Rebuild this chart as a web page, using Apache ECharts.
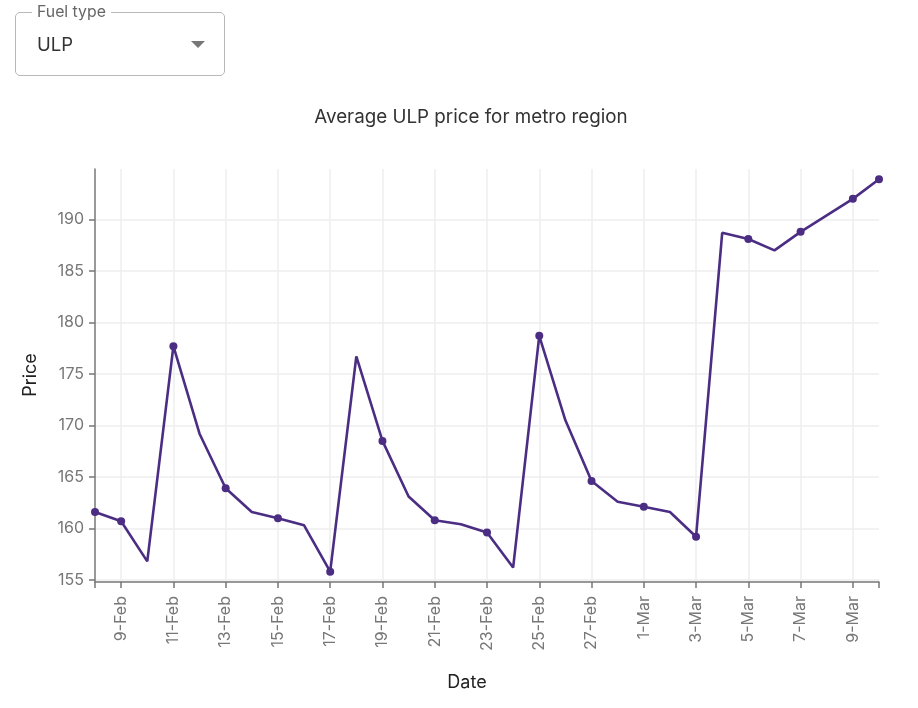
<!DOCTYPE html>
<html>
<head>
<meta charset="utf-8">
<script src="https://cdn.jsdelivr.net/npm/echarts@6/dist/echarts.min.js"></script>
<style>
  html, body { margin: 0; padding: 0; background: #fff; font-family: Inter, "Noto Sans", sans-serif; }
  #wrap { position: relative; width: 918px; height: 708px; }
  #chart { position: absolute; left: 0; top: 0; width: 918px; height: 708px; }
  #sel { position: absolute; left: 15px; top: 12px; width: 210px; height: 64px; border: 1px solid #b8b8b8; border-radius: 5px; box-sizing: border-box; z-index: 2; background: transparent; }
  #sel .lab { position: absolute; left: 16px; top: -11px; padding: 0 5px; background: #fff; font-size: 15.8px; color: #666; line-height: 20px; }
  #sel .val { position: absolute; left: 21px; top: 20px; font-size: 18.5px; color: #333; line-height: 22px; }
  #sel .arr { position: absolute; left: 175px; top: 28px; width: 0; height: 0; border-left: 7px solid transparent; border-right: 7px solid transparent; border-top: 7px solid #777; }
</style>
</head>
<body>
<div id="wrap">
  <div id="chart"></div>
  <div id="sel"><span class="lab">Fuel type</span><span class="val">ULP</span><span class="arr"></span></div>
</div>
<script>
const dates = ['8-Feb','9-Feb','10-Feb','11-Feb','12-Feb','13-Feb','14-Feb','15-Feb','16-Feb','17-Feb','18-Feb','19-Feb','20-Feb','21-Feb','22-Feb','23-Feb','24-Feb','25-Feb','26-Feb','27-Feb','28-Feb','1-Mar','2-Mar','3-Mar','4-Mar','5-Mar','6-Mar','7-Mar','8-Mar','9-Mar','10-Mar'];
const prices = [161.6,160.7,156.8,177.7,169.2,163.9,161.6,161.0,160.3,155.8,176.7,168.5,163.1,160.8,160.4,159.6,156.2,178.7,170.5,164.6,162.6,162.1,161.6,159.2,188.7,188.1,187.0,188.8,190.4,192.0,193.9];
const yMin = 154.8;
const yMax = 194.9;
const titleText = 'Average ULP price for metro region';
const xName = 'Date';
const yName = 'Price';

const lastIdx = dates.length - 1;
const isLabelIdx = (i) => i % 2 === 1;
const hasMark = (i) => i === 0 || i === lastIdx || isLabelIdx(i);

const seriesData = prices.map((v, i) => ({ value: v, symbol: hasMark(i) ? 'circle' : 'none' }));

const chart = echarts.init(document.getElementById('chart'));
const font = 'Inter, "Noto Sans", sans-serif';
chart.setOption({
  animation: false,
  textStyle: { fontFamily: font },
  title: {
    text: titleText,
    left: 466, top: 103, textAlign: 'center',
    textStyle: { fontFamily: font, fontSize: 18.8, fontWeight: 'normal', color: '#333' }
  },
  graphic: [
    { type: 'text', x: 467, y: 683, style: { text: xName, fontFamily: font, fontSize: 18, fill: '#222', align: 'center', verticalAlign: 'middle' } },
    { type: 'text', x: 31, y: 375, rotation: Math.PI / 2, style: { text: yName, fontFamily: font, fontSize: 18, fill: '#222', align: 'center', verticalAlign: 'middle' } }
  ],
  grid: { left: 95, right: 39, top: 169, bottom: 126, outerBoundsMode: 'none', containLabel: false },
  xAxis: {
    type: 'category',
    data: dates,
    boundaryGap: false,
    axisLine: { onZero: false, lineStyle: { color: '#777', width: 1.5 } },
    axisTick: { show: true, length: 6, interval: (i) => hasMark(i), lineStyle: { color: '#777', width: 1.5 } },
    axisLabel: { interval: (i) => isLabelIdx(i), rotate: 90, margin: 14, fontFamily: font, fontSize: 16, color: '#777' },
    splitLine: { show: true, interval: (i) => isLabelIdx(i), lineStyle: { color: '#eeeeee', width: 1.5 } }
  },
  yAxis: {
    type: 'value',
    min: yMin,
    max: yMax,
    splitNumber: 8,
    axisLine: { show: true, lineStyle: { color: '#777', width: 1.5 } },
    axisTick: { show: true, length: 6, lineStyle: { color: '#777', width: 1.5 } },
    axisLabel: { showMinLabel: false, showMaxLabel: false, margin: 11, fontFamily: font, fontSize: 16, color: '#777' },
    splitLine: { show: true, showMinLine: false, showMaxLine: false, lineStyle: { color: '#eeeeee', width: 1.5 } }
  },
  series: [{
    type: 'line',
    data: seriesData,
    showAllSymbol: true,
    symbolSize: 8,
    lineStyle: { color: '#4b2e83', width: 2.6 },
    itemStyle: { color: '#4b2e83' }
  }]
});
</script>
</body>
</html>
